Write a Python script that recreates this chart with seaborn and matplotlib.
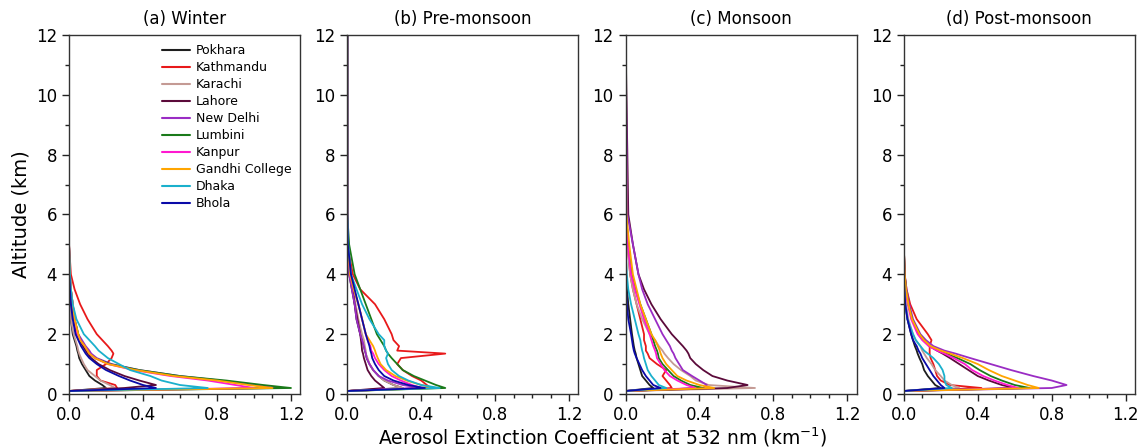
import matplotlib
matplotlib.use("Agg")
import matplotlib.pyplot as plt
import numpy as np
import pandas as pd
import seaborn as sns
from matplotlib.ticker import MultipleLocator

# altitude grid (km) shared by all profiles
ALT = [0.1, 0.2, 0.3, 0.45, 0.6, 0.8, 1.0, 1.2, 1.35, 1.45, 1.6, 1.8, 2.0, 2.5, 3.0, 3.5, 4.0, 5.0, 6.0, 12.0]

STATIONS = ["Pokhara", "Kathmandu", "Karachi", "Lahore", "New Delhi",
            "Lumbini", "Kanpur", "Gandhi College", "Dhaka", "Bhola"]
COLORS = ["#1e1e1e", "#e8191a", "#c49a94", "#5b0a3a", "#9a2cc4",
          "#1a7a1a", "#ff19d0", "#ffa500", "#1ab0cc", "#0a0aa8"]
TITLES = ["(a) Winter", "(b) Pre-monsoon", "(c) Monsoon", "(d) Post-monsoon"]

# extinction coefficient (km^-1) at each altitude of ALT
winter = {
    "Pokhara":        [0.0, 0.2, 0.18, 0.14, 0.11, 0.09, 0.07, 0.055, 0.05, 0.045, 0.04, 0.03, 0.02, 0.01, 0.005, 0, 0, 0, 0, 0],
    "Kathmandu":      [0.0, 0.26, 0.25, 0.17, 0.15, 0.15, 0.2, 0.23, 0.24, 0.23, 0.21, 0.18, 0.15, 0.1, 0.06, 0.03, 0.01, 0, 0, 0],
    "Karachi":        [0.0, 0.25, 0.22, 0.17, 0.14, 0.1, 0.08, 0.065, 0.055, 0.05, 0.045, 0.035, 0.025, 0.01, 0.005, 0, 0, 0, 0, 0],
    "Lahore":         [0.0, 0.3, 0.47, 0.38, 0.3, 0.22, 0.16, 0.12, 0.1, 0.09, 0.075, 0.055, 0.04, 0.025, 0.015, 0.005, 0, 0, 0, 0],
    "New Delhi":      [0.02, 1.12, 1.0, 0.82, 0.6, 0.38, 0.23, 0.15, 0.12, 0.11, 0.09, 0.07, 0.05, 0.03, 0.02, 0.01, 0.005, 0, 0, 0],
    "Lumbini":        [0.0, 1.2, 1.05, 0.85, 0.6, 0.38, 0.22, 0.14, 0.11, 0.1, 0.085, 0.06, 0.05, 0.03, 0.02, 0.01, 0.005, 0, 0, 0],
    "Kanpur":         [0.0, 1.0, 0.9, 0.75, 0.55, 0.35, 0.21, 0.14, 0.11, 0.1, 0.085, 0.06, 0.045, 0.03, 0.02, 0.01, 0.005, 0, 0, 0],
    "Gandhi College": [0.0, 1.1, 0.97, 0.8, 0.57, 0.36, 0.21, 0.14, 0.11, 0.1, 0.085, 0.06, 0.05, 0.03, 0.02, 0.01, 0.005, 0, 0, 0],
    "Dhaka":          [0.0, 0.75, 0.6, 0.5, 0.44, 0.33, 0.27, 0.21, 0.18, 0.16, 0.14, 0.11, 0.08, 0.04, 0.02, 0.01, 0.005, 0, 0, 0],
    "Bhola":          [0.0, 0.47, 0.4, 0.33, 0.27, 0.2, 0.15, 0.11, 0.09, 0.08, 0.065, 0.05, 0.035, 0.02, 0.01, 0.005, 0, 0, 0, 0],
}

pre_monsoon = {
    "Pokhara":        [0.0, 0.3, 0.25, 0.2, 0.17, 0.14, 0.12, 0.105, 0.1, 0.095, 0.09, 0.08, 0.07, 0.05, 0.04, 0.025, 0.01, 0.002, 0, 0],
    "Kathmandu":      [0.0, 0.45, 0.43, 0.4, 0.35, 0.3, 0.27, 0.29, 0.53, 0.27, 0.28, 0.25, 0.24, 0.2, 0.15, 0.07, 0.03, 0, 0, 0],
    "Karachi":        [0.0, 0.3, 0.25, 0.2, 0.17, 0.14, 0.12, 0.11, 0.1, 0.1, 0.095, 0.09, 0.08, 0.06, 0.045, 0.03, 0.015, 0.003, 0, 0],
    "Lahore":         [0.0, 0.2, 0.18, 0.15, 0.13, 0.11, 0.1, 0.09, 0.085, 0.08, 0.078, 0.074, 0.07, 0.055, 0.04, 0.03, 0.015, 0.003, 0, 0],
    "New Delhi":      [0.0, 0.4, 0.3, 0.22, 0.17, 0.14, 0.12, 0.105, 0.1, 0.095, 0.09, 0.08, 0.07, 0.05, 0.04, 0.025, 0.01, 0.002, 0, 0],
    "Lumbini":        [0.0, 0.53, 0.48, 0.42, 0.36, 0.3, 0.27, 0.24, 0.22, 0.21, 0.2, 0.18, 0.16, 0.13, 0.1, 0.07, 0.04, 0.01, 0, 0],
    "Kanpur":         [0.0, 0.4, 0.35, 0.29, 0.24, 0.2, 0.17, 0.15, 0.14, 0.13, 0.125, 0.11, 0.1, 0.08, 0.06, 0.035, 0.015, 0.003, 0, 0],
    "Gandhi College": [0.0, 0.48, 0.4, 0.32, 0.26, 0.21, 0.18, 0.165, 0.155, 0.15, 0.14, 0.12, 0.1, 0.08, 0.06, 0.035, 0.015, 0.003, 0, 0],
    "Dhaka":          [0.0, 0.5, 0.4, 0.33, 0.28, 0.24, 0.22, 0.21, 0.22, 0.21, 0.2, 0.2, 0.17, 0.12, 0.08, 0.05, 0.02, 0.005, 0, 0],
    "Bhola":          [0.0, 0.42, 0.33, 0.25, 0.2, 0.17, 0.15, 0.135, 0.13, 0.125, 0.12, 0.11, 0.1, 0.08, 0.06, 0.04, 0.02, 0.003, 0, 0],
}

monsoon = {
    "Pokhara":        [0.0, 0.15, 0.13, 0.11, 0.09, 0.08, 0.07, 0.06, 0.055, 0.05, 0.045, 0.04, 0.035, 0.025, 0.015, 0.008, 0.003, 0, 0, 0],
    "Kathmandu":      [0.0, 0.25, 0.24, 0.22, 0.2, 0.22, 0.17, 0.13, 0.12, 0.11, 0.11, 0.1, 0.1, 0.08, 0.06, 0.04, 0.025, 0.01, 0, 0],
    "Karachi":        [0.0, 0.7, 0.45, 0.38, 0.35, 0.3, 0.26, 0.23, 0.21, 0.2, 0.18, 0.16, 0.13, 0.09, 0.06, 0.04, 0.025, 0.01, 0, 0],
    "Lahore":         [0.0, 0.55, 0.66, 0.55, 0.47, 0.42, 0.38, 0.35, 0.34, 0.33, 0.31, 0.28, 0.25, 0.19, 0.14, 0.1, 0.07, 0.04, 0.015, 0],
    "New Delhi":      [0.0, 0.42, 0.44, 0.4, 0.36, 0.31, 0.29, 0.27, 0.26, 0.25, 0.24, 0.22, 0.2, 0.16, 0.12, 0.09, 0.07, 0.04, 0.01, 0],
    "Lumbini":        [0.0, 0.42, 0.35, 0.3, 0.26, 0.23, 0.2, 0.18, 0.175, 0.17, 0.16, 0.15, 0.14, 0.11, 0.08, 0.055, 0.035, 0.015, 0.003, 0],
    "Kanpur":         [0.0, 0.38, 0.33, 0.28, 0.24, 0.21, 0.19, 0.17, 0.165, 0.16, 0.15, 0.14, 0.13, 0.1, 0.075, 0.05, 0.03, 0.012, 0.002, 0],
    "Gandhi College": [0.0, 0.48, 0.4, 0.33, 0.28, 0.25, 0.22, 0.2, 0.19, 0.185, 0.175, 0.16, 0.14, 0.11, 0.08, 0.06, 0.04, 0.02, 0.005, 0],
    "Dhaka":          [0.0, 0.22, 0.18, 0.16, 0.14, 0.12, 0.11, 0.1, 0.095, 0.09, 0.085, 0.08, 0.07, 0.05, 0.03, 0.015, 0.007, 0, 0, 0],
    "Bhola":          [0.0, 0.19, 0.15, 0.13, 0.11, 0.09, 0.075, 0.06, 0.05, 0.045, 0.04, 0.035, 0.03, 0.015, 0.008, 0.003, 0, 0, 0, 0],
}

post_monsoon = {
    "Pokhara":        [0.0, 0.2, 0.17, 0.15, 0.13, 0.11, 0.1, 0.085, 0.075, 0.07, 0.06, 0.05, 0.04, 0.02, 0.01, 0.004, 0, 0, 0, 0],
    "Kathmandu":      [0.0, 0.42, 0.25, 0.2, 0.18, 0.17, 0.16, 0.145, 0.14, 0.14, 0.14, 0.15, 0.13, 0.07, 0.035, 0.015, 0.005, 0, 0, 0],
    "Karachi":        [0.0, 0.3, 0.26, 0.22, 0.2, 0.17, 0.15, 0.125, 0.11, 0.1, 0.09, 0.065, 0.05, 0.025, 0.012, 0.005, 0, 0, 0, 0],
    "Lahore":         [0.0, 0.6, 0.53, 0.46, 0.4, 0.35, 0.3, 0.25, 0.21, 0.18, 0.14, 0.105, 0.08, 0.045, 0.025, 0.012, 0.005, 0, 0, 0],
    "New Delhi":      [0.0, 0.8, 0.88, 0.8, 0.7, 0.58, 0.47, 0.36, 0.28, 0.22, 0.16, 0.12, 0.09, 0.05, 0.03, 0.015, 0.005, 0, 0, 0],
    "Lumbini":        [0.0, 0.68, 0.6, 0.53, 0.47, 0.41, 0.36, 0.29, 0.23, 0.19, 0.14, 0.11, 0.085, 0.045, 0.025, 0.012, 0.005, 0, 0, 0],
    "Kanpur":         [0.0, 0.62, 0.56, 0.49, 0.43, 0.37, 0.33, 0.27, 0.22, 0.18, 0.135, 0.1, 0.075, 0.04, 0.022, 0.01, 0.004, 0, 0, 0],
    "Gandhi College": [0.0, 0.73, 0.67, 0.6, 0.53, 0.46, 0.4, 0.32, 0.25, 0.2, 0.145, 0.11, 0.085, 0.045, 0.025, 0.012, 0.005, 0, 0, 0],
    "Dhaka":          [0.0, 0.26, 0.23, 0.22, 0.22, 0.21, 0.19, 0.16, 0.13, 0.11, 0.09, 0.065, 0.05, 0.02, 0.008, 0.003, 0, 0, 0, 0],
    "Bhola":          [0.0, 0.22, 0.2, 0.18, 0.16, 0.14, 0.12, 0.1, 0.09, 0.08, 0.07, 0.05, 0.04, 0.02, 0.008, 0.003, 0, 0, 0, 0],
}

SEASONS = [winter, pre_monsoon, monsoon, post_monsoon]


def to_long(season):
    rows = []
    for st in STATIONS:
        for a, v in zip(ALT, season[st]):
            rows.append({"station": st, "alt": a, "ext": v})
    return pd.DataFrame(rows)


sns.set_style("ticks")
plt.rcParams["font.family"] = ["DejaVu Sans"]
plt.rcParams["text.color"] = "black"
plt.rcParams["axes.labelcolor"] = "black"

fig, axes = plt.subplots(1, 4, figsize=(11.41, 4.47), dpi=100)
fig.subplots_adjust(left=0.0605, right=0.9947, bottom=0.1186, top=0.9217, wspace=0.2035)

palette = dict(zip(STATIONS, COLORS))

for i, ax in enumerate(axes):
    df = to_long(SEASONS[i])
    sns.lineplot(data=df, x="ext", y="alt", hue="station", hue_order=STATIONS,
                 palette=palette, sort=False, estimator=None, orient="y",
                 lw=1.3, ax=ax, legend=(i == 0))
    ax.set_xlim(0, 1.25)
    ax.set_ylim(0, 12)
    ax.xaxis.set_major_locator(MultipleLocator(0.4))
    ax.xaxis.set_minor_locator(MultipleLocator(0.1))
    ax.yaxis.set_major_locator(MultipleLocator(2))
    ax.yaxis.set_minor_locator(MultipleLocator(1))
    ax.set_xticklabels([f"{t:.1f}" for t in ax.get_xticks()])
    ax.tick_params(which="major", length=5, width=1, labelsize=12,
                   colors="#222222", labelcolor="black")
    ax.tick_params(which="minor", length=3, width=1, colors="#222222")
    for sp in ax.spines.values():
        sp.set_color("#333333")
        sp.set_linewidth(1.0)
    ax.set_title(TITLES[i], fontsize=12, pad=8, color="black")
    ax.set_xlabel("")
    ax.set_ylabel("Altitude (km)" if i == 0 else "", fontsize=14)

leg = axes[0].legend(loc="upper left", bbox_to_anchor=(0.355, 1.005), frameon=False,
                     fontsize=9, handlelength=2.2, handletextpad=0.5, labelspacing=0.32)
for h in leg.get_lines():
    h.set_linewidth(1.5)

fig.text(0.528, 0.022, "Aerosol Extinction Coefficient at 532 nm (km$^{-1}$)",
         ha="center", va="center", fontsize=13.5)

fig.savefig("out.png", dpi=100)
